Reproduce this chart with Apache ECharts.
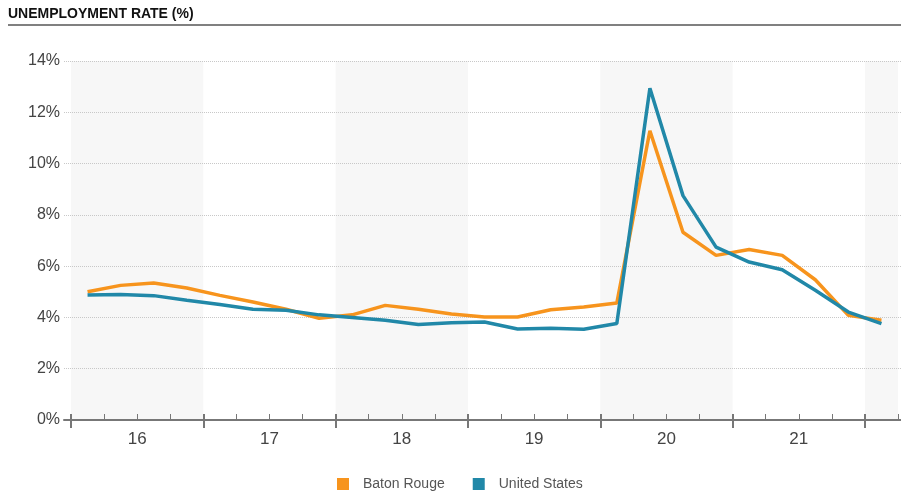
<!DOCTYPE html>
<html>
<head>
<meta charset="utf-8">
<script src="https://cdn.jsdelivr.net/npm/echarts@6/dist/echarts.min.js"></script>
<style>
html,body{margin:0;padding:0;background:#fff;}
#c{width:901px;height:491px;}
</style>
</head>
<body>
<div id="c"></div>
<script>
var quarters = ['2016 Q1','2016 Q2','2016 Q3','2016 Q4','2017 Q1','2017 Q2','2017 Q3','2017 Q4',
  '2018 Q1','2018 Q2','2018 Q3','2018 Q4','2019 Q1','2019 Q2','2019 Q3','2019 Q4',
  '2020 Q1','2020 Q2','2020 Q3','2020 Q4','2021 Q1','2021 Q2','2021 Q3','2021 Q4','2022 Q1'];
var batonRouge = [5.0, 5.25, 5.34, 5.15, 4.86, 4.6, 4.32, 3.97, 4.1, 4.47, 4.32, 4.13, 4.02, 4.02, 4.3, 4.41, 4.56, 11.28, 7.32, 6.42, 6.65, 6.42, 5.47, 4.08, 3.89];
var unitedStates = [4.87, 4.89, 4.85, 4.67, 4.5, 4.32, 4.28, 4.1, 4.0, 3.89, 3.72, 3.79, 3.82, 3.55, 3.58, 3.54, 3.76, 12.94, 8.75, 6.74, 6.16, 5.86, 5.06, 4.21, 3.76];
var yearLabels = ['16','17','18','19','20','21'];
var yTicks = [0, 2, 4, 6, 8, 10, 12, 14];

var Q = 4;
var nQ = quarters.length;
var yearBounds = [];
for (var k = 0; k * Q < nQ; k++) yearBounds.push(k * Q);

function pairs(arr) { return arr.map(function (v, i) { return [i + 0.5, v]; }); }

var FONT = '"Liberation Sans", Arial, sans-serif';
var AX = '#777';
var chart = echarts.init(document.getElementById('c'), null, {renderer: 'canvas'});
chart.setOption({
  animation: false,
  backgroundColor: '#fff',
  title: {
    text: 'UNEMPLOYMENT RATE (%)', left: 8, top: 7, padding: 0,
    textStyle: {fontFamily: FONT, fontSize: 14, fontWeight: 'bold', color: '#111'}
  },
  graphic: [{
    type: 'line', shape: {x1: 8, y1: 25, x2: 901, y2: 25},
    style: {stroke: '#808080', lineWidth: 2}
  }],
  legend: {
    data: ['Baton Rouge', 'United States'],
    left: 337, top: 477, padding: 0, itemGap: 28,
    icon: 'rect', itemWidth: 12, itemHeight: 12,
    textStyle: {fontFamily: FONT, fontSize: 14, color: '#555', padding: [0, 0, 0, 9]}
  },
  grid: [
    {left: 64, right: 0, top: 61, bottom: 71},
    {left: 71, right: 0.5, top: 61, bottom: 71}
  ],
  xAxis: [
    {gridIndex: 0, type: 'value', position: 'bottom', offset: 0, min: 0, max: 1, z: 3,
      axisLine: {show: true, lineStyle: {color: AX, width: 2}},
      axisTick: {show: false}, axisLabel: {show: false}, splitLine: {show: false}},
    {gridIndex: 1, type: 'value', position: 'bottom', offset: 0, min: 0, max: nQ, interval: 1, z: 3,
      axisLine: {show: false},
      axisTick: {show: true, inside: true, length: 6, lineStyle: {color: AX, width: 1}},
      axisLabel: {show: true, margin: 11, fontFamily: FONT, fontSize: 17, color: '#444',
        formatter: function (v) {
          var r = v - Q / 2;
          if (r >= 0 && r % Q === 0) { var yi = r / Q; return yearLabels[yi] || ''; }
          return '';
        }},
      splitLine: {show: false}},
    {gridIndex: 1, type: 'value', position: 'bottom', offset: 0, min: 0, max: nQ, interval: Q, z: 3,
      axisLine: {show: false},
      axisTick: {show: true, inside: false, length: 8, customValues: yearBounds, lineStyle: {color: AX, width: 2}},
      axisLabel: {show: false}, splitLine: {show: false}},
    {gridIndex: 1, type: 'value', position: 'bottom', offset: 0, min: 0, max: nQ, interval: Q, z: 3,
      axisLine: {show: false},
      axisTick: {show: true, inside: true, length: 6, customValues: yearBounds, lineStyle: {color: AX, width: 2}},
      axisLabel: {show: false}, splitLine: {show: false}},
    {gridIndex: 1, type: 'value', position: 'bottom', offset: 0, min: 0, max: nQ, interval: Q, z: 0,
      axisLine: {show: false}, axisTick: {show: false}, axisLabel: {show: false},
      splitLine: {show: false},
      splitArea: {show: true, areaStyle: {color: ['#f7f7f7', 'rgba(255,255,255,0)']}}}
  ],
  yAxis: [
    {gridIndex: 0, type: 'value', min: yTicks[0], max: yTicks[yTicks.length - 1], interval: 2, z: 1,
      axisLine: {show: false}, axisTick: {show: false},
      axisLabel: {margin: 4, fontFamily: FONT, fontSize: 16, color: '#444', formatter: '{value}%'},
      splitLine: {show: true, lineStyle: {type: 'dotted', color: '#c8c8c8', width: 1}}},
    {gridIndex: 1, type: 'value', min: yTicks[0], max: yTicks[yTicks.length - 1], interval: 2, show: false,
      splitLine: {show: false}}
  ],
  series: [
    {name: 'Baton Rouge', type: 'line', xAxisIndex: 1, yAxisIndex: 1, data: pairs(batonRouge),
      showSymbol: false, symbol: 'none', color: '#f7941d', lineStyle: {width: 3.5, color: '#f7941d'}, z: 2},
    {name: 'United States', type: 'line', xAxisIndex: 1, yAxisIndex: 1, data: pairs(unitedStates),
      showSymbol: false, symbol: 'none', color: '#2188a8', lineStyle: {width: 3.5, color: '#2188a8'}, z: 3}
  ]
});
</script>
</body>
</html>
